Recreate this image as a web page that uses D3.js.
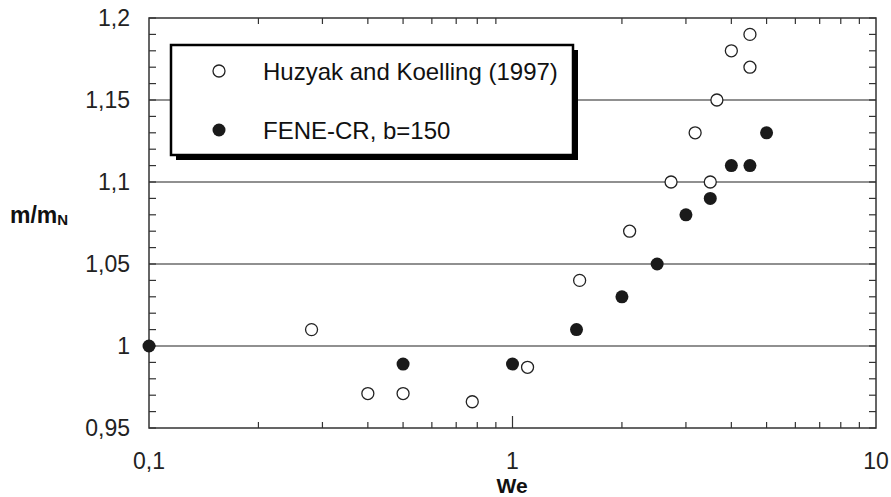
<!DOCTYPE html>
<html>
<head>
<meta charset="utf-8">
<script src="https://cdn.jsdelivr.net/npm/d3@7/dist/d3.min.js"></script>
<style>
  html, body { margin: 0; padding: 0; background: #fff; }
  svg { display: block; font-family: "Liberation Sans", Arial, sans-serif; }
</style>
</head>
<body>
<svg id="chart" width="891" height="497"></svg>
<script>
// Experimental data: Huzyak and Koelling (1997)
const huzyakWe = [0.28, 0.4, 0.5, 0.775, 1.1, 1.53, 2.1, 2.73, 3.18, 3.5, 3.65, 4.0, 4.5, 4.5];
const huzyakM  = [1.01, 0.971, 0.971, 0.966, 0.987, 1.04, 1.07, 1.10, 1.13, 1.10, 1.15, 1.18, 1.19, 1.17];

// FENE-CR simulation, b = 150
const feneWe = [0.1, 0.5, 1.0, 1.5, 2.0, 2.5, 3.0, 3.5, 4.0, 4.5, 5.0];
const feneM  = [1.0, 0.989, 0.989, 1.01, 1.03, 1.05, 1.08, 1.09, 1.11, 1.11, 1.13];

const xTickValues = [0.1, 1, 10];
const xTickLabels = ["0,1", "1", "10"];
const yTickValues = [0.95, 1.0, 1.05, 1.1, 1.15, 1.2];
const yTickLabels = ["0,95", "1", "1,05", "1,1", "1,15", "1,2"];
const gridValues = [1.0, 1.05, 1.1, 1.15];
const legendLabels = ["Huzyak and Koelling (1997)", "FENE-CR, b=150"];

const svg = d3.select("#chart");
const m = { left: 149, right: 876, top: 18, bottom: 428 };

const x = d3.scaleLog().domain([0.1, 10]).range([m.left, m.right]);
const y = d3.scaleLinear().domain([0.95, 1.2]).range([m.bottom, m.top]);

const axisColor = "#333";

// horizontal grid lines at major values
svg.append("g").selectAll("line").data(gridValues).join("line")
  .attr("x1", m.left).attr("x2", m.right)
  .attr("y1", d => y(d)).attr("y2", d => y(d))
  .attr("stroke", "#222").attr("stroke-width", 1.2);

// minor ticks on left and right edges (every 0.01), pointing inward
const yMinor = d3.range(0, 26).map(i => 0.95 + i * 0.01);
const tickG = svg.append("g").attr("stroke", axisColor).attr("stroke-width", 1.2);
tickG.selectAll(".yl").data(yMinor).join("line").attr("class", "yl")
  .attr("x1", m.left).attr("x2", m.left + 7)
  .attr("y1", d => y(d)).attr("y2", d => y(d));
tickG.selectAll(".yr").data(yMinor).join("line").attr("class", "yr")
  .attr("x1", m.right).attr("x2", m.right - 7)
  .attr("y1", d => y(d)).attr("y2", d => y(d));

// log ticks along top and bottom edges
const xMinor = [];
[0.1, 1].forEach(dec => { for (let k = 2; k <= 9; k++) xMinor.push(dec * k); });
tickG.selectAll(".xb").data(xMinor).join("line").attr("class", "xb")
  .attr("x1", d => x(d)).attr("x2", d => x(d))
  .attr("y1", m.bottom).attr("y2", m.bottom - 6);
tickG.selectAll(".xt").data(xMinor).join("line").attr("class", "xt")
  .attr("x1", d => x(d)).attr("x2", d => x(d))
  .attr("y1", m.top).attr("y2", m.top + 6);
tickG.append("line")
  .attr("x1", x(1)).attr("x2", x(1))
  .attr("y1", m.bottom).attr("y2", m.bottom - 12);

// plot frame
svg.append("rect")
  .attr("x", m.left).attr("y", m.top)
  .attr("width", m.right - m.left).attr("height", m.bottom - m.top)
  .attr("fill", "none").attr("stroke", axisColor).attr("stroke-width", 1.5);

// tick labels
svg.append("g").selectAll("text").data(yTickValues).join("text")
  .attr("x", 130).attr("y", d => y(d))
  .attr("dy", "0.36em").attr("text-anchor", "end")
  .attr("font-size", 23).attr("fill", "#222")
  .text((d, i) => yTickLabels[i]);

svg.append("g").selectAll("text").data(xTickValues).join("text")
  .attr("x", d => x(d)).attr("y", 468.5)
  .attr("text-anchor", "middle")
  .attr("font-size", 23).attr("fill", "#222")
  .text((d, i) => xTickLabels[i]);

// axis titles
svg.append("text")
  .attr("x", 512).attr("y", 492.5)
  .attr("text-anchor", "middle")
  .attr("font-size", 21).attr("font-weight", "bold").attr("fill", "#111")
  .text("We");

const yt = svg.append("text")
  .attr("x", 10).attr("y", 223)
  .attr("font-size", 23).attr("font-weight", "bold").attr("fill", "#111");
yt.append("tspan").text("m/m");
yt.append("tspan").attr("font-size", 15).attr("dy", 2).text("N");

// data points
const r = 6.5;
svg.append("g").selectAll("circle").data(huzyakWe.map((w, i) => [w, huzyakM[i]])).join("circle")
  .attr("cx", d => x(d[0])).attr("cy", d => y(d[1])).attr("r", r - 0.5)
  .attr("fill", "#fff").attr("stroke", "#222").attr("stroke-width", 1.3);

svg.append("g").selectAll("circle").data(feneWe.map((w, i) => [w, feneM[i]])).join("circle")
  .attr("cx", d => x(d[0])).attr("cy", d => y(d[1])).attr("r", r)
  .attr("fill", "#1a1a1a");

// legend with drop shadow
const lg = svg.append("g");
const lx = 171, ly = 45, lw = 402, lh = 110;
lg.append("rect").attr("x", lx + 5).attr("y", ly + 5).attr("width", lw).attr("height", lh).attr("fill", "#000");
lg.append("rect").attr("x", lx).attr("y", ly).attr("width", lw).attr("height", lh)
  .attr("fill", "#fff").attr("stroke", "#000").attr("stroke-width", 2.5);

const legendRows = [
  { label: legendLabels[0], filled: false, cy: 71 },
  { label: legendLabels[1], filled: true, cy: 130 }
];
legendRows.forEach(row => {
  lg.append("circle").attr("cx", 219).attr("cy", row.cy).attr("r", row.filled ? 6.5 : 6)
    .attr("fill", row.filled ? "#1a1a1a" : "#fff")
    .attr("stroke", row.filled ? "none" : "#222").attr("stroke-width", 1.3);
  lg.append("text").attr("x", 263).attr("y", row.cy).attr("dy", "0.36em")
    .attr("font-size", 24).attr("fill", "#111").text(row.label);
});
</script>
</body>
</html>
